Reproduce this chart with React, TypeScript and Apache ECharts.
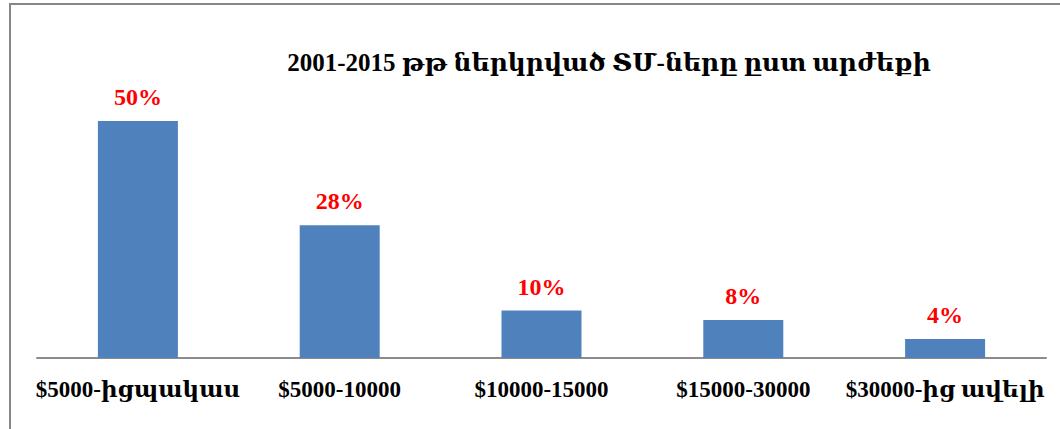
import React, { useEffect, useRef } from "react";
import * as echarts from "echarts";

const categories = ["$5000-իցպակաս", "$5000-10000", "$10000-15000", "$15000-30000", "$30000-ից ավելի"];
const values = [50, 28, 10, 8, 4];
const titleText = "2001-2015 թթ ներկրված ՏՄ-ները ըստ արժեքի";

const FONT = "'Liberation Serif', 'DejaVu Serif', serif";

export default function App() {
  const ref = useRef<HTMLDivElement>(null);
  useEffect(() => {
    if (!ref.current) return;
    const chart = echarts.init(ref.current, null, { renderer: "svg" });
    chart.setOption({
      animation: false,
      backgroundColor: "#ffffff",
      title: {
        text: titleText,
        left: 604,
        top: 45,
        textAlign: "center",
        textStyle: { fontFamily: FONT, fontWeight: "bold", fontSize: 25, color: "#000" },
      },
      grid: { left: 37, right: 14, top: 121, bottom: 71, containLabel: false },
      xAxis: {
        type: "category",
        data: categories,
        axisLine: { show: true, lineStyle: { color: "#8c8c8c", width: 2 } },
        axisTick: { show: false },
        axisLabel: {
          interval: 0,
          margin: 20,
          fontFamily: FONT,
          fontWeight: "bold",
          fontSize: 23,
          color: "#000",
        },
      },
      yAxis: {
        type: "value",
        min: 0,
        max: 50,
        show: false,
        splitLine: { show: false },
      },
      series: [
        {
          type: "bar",
          data: values,
          barWidth: 80,
          itemStyle: { color: "#4F81BD" },
          label: {
            show: true,
            position: "top",
            distance: 12,
            formatter: "{c}%",
            fontFamily: FONT,
            fontWeight: "bold",
            fontSize: 24,
            color: "#ff0000",
          },
        },
      ],
      graphic: [
        { type: "rect", shape: { x: 9, y: 3, width: 1051, height: 2 }, style: { fill: "#868686" } },
        { type: "rect", shape: { x: 9, y: 3, width: 2, height: 426 }, style: { fill: "#868686" } },
      ],
    });
    return () => chart.dispose();
  }, []);
  return <div ref={ref} style={{ position: "fixed", left: 0, top: 0, width: 1060, height: 429 }} />;
}
